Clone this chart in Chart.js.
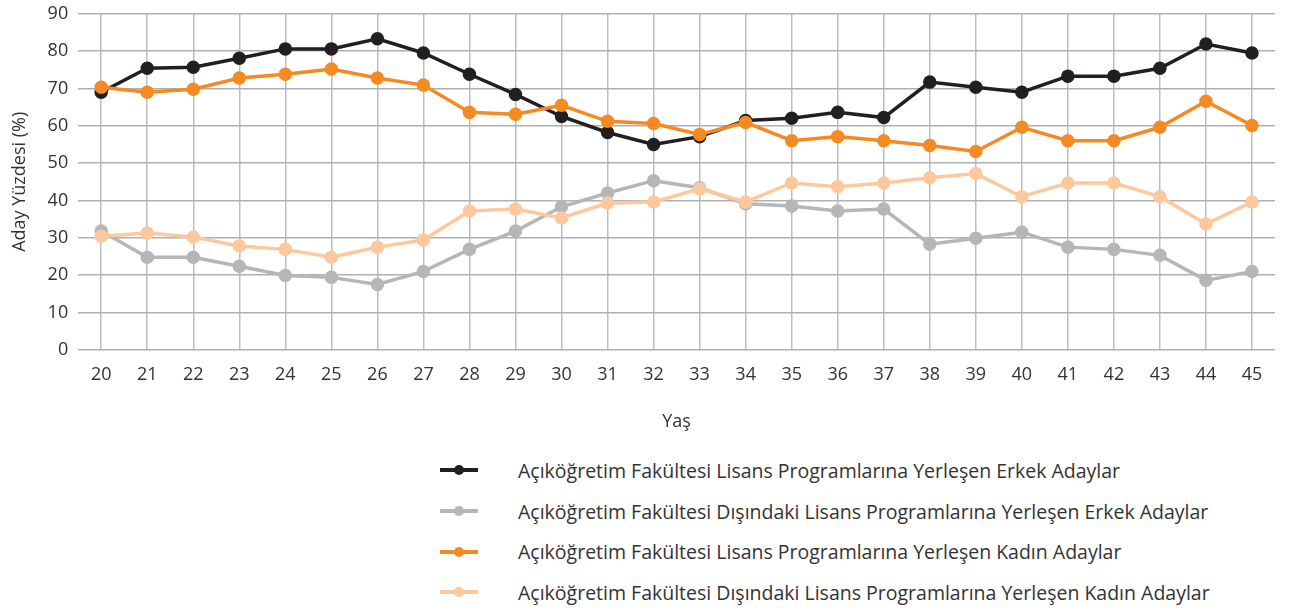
<!DOCTYPE html>
<html lang="tr">
<head>
    <meta charset="UTF-8">
    <title>Aday Yüzdesi</title>
    <script src="https://cdn.jsdelivr.net/npm/chart.js"></script>
    <style>
        body { margin: 0; background: #fff; font-family: 'Open Sans', sans-serif; }
        #wrap { position: relative; width: 1291px; height: 610px; overflow: hidden; }
        #chartBox { position: absolute; left: 0; top: -7px; width: 1291px; height: 444px; }
        #legend { position: absolute; left: 440px; top: 450px; }
        .item { display: flex; align-items: center; height: 40.7px; font-size: 19.5px; color: #333; }
        .mark { position: relative; width: 38px; height: 4px; margin-right: 40px; }
        .mark span { position: absolute; left: 14px; top: -3px; width: 10px; height: 10px; border-radius: 50%; }
    </style>
</head>
<body>
<div id="wrap">
    <div id="chartBox"><canvas id="chart"></canvas></div>
    <div id="legend"></div>
</div>
<script>
    // chart data
    const ages = ['20','21','22','23','24','25','26','27','28','29','30','31','32','33','34','35','36','37','38','39','40','41','42','43','44','45'];
    const aofErkek = [69, 75.4, 75.7, 78.1, 80.6, 80.6, 83.3, 79.5, 73.8, 68.4, 62.5, 58.2, 55, 57.1, 61.4, 62, 63.6, 62.2, 71.7, 70.3, 69, 73.3, 73.3, 75.4, 81.9, 79.5];
    const digerErkek = [31.8, 24.8, 24.8, 22.4, 19.9, 19.4, 17.5, 21, 26.9, 31.8, 38.3, 42, 45.3, 43.4, 39.1, 38.5, 37.2, 37.7, 28.3, 29.9, 31.5, 27.5, 26.9, 25.3, 18.6, 21];
    const aofKadin = [70.3, 69, 69.8, 72.8, 73.8, 75.2, 72.8, 70.9, 63.6, 63.1, 65.5, 61.2, 60.6, 57.7, 60.9, 56, 57.1, 56, 54.7, 53.1, 59.6, 56, 56, 59.6, 66.6, 60.1];
    const digerKadin = [30.4, 31.3, 30.2, 27.8, 26.9, 24.8, 27.5, 29.4, 37.2, 37.7, 35.3, 39.3, 39.6, 43.1, 39.6, 44.7, 43.7, 44.7, 46.1, 47.2, 41, 44.7, 44.7, 41, 33.7, 39.6];

    const seriesNames = [
        'Açıköğretim Fakültesi Lisans Programlarına Yerleşen Erkek Adaylar',
        'Açıköğretim Fakültesi Dışındaki Lisans Programlarına Yerleşen Erkek Adaylar',
        'Açıköğretim Fakültesi Lisans Programlarına Yerleşen Kadın Adaylar',
        'Açıköğretim Fakültesi Dışındaki Lisans Programlarına Yerleşen Kadın Adaylar'
    ];
    const seriesColors = ['#231f20', '#b5b6b8', '#f58a22', '#fec89d'];
    const seriesValues = [aofErkek, digerErkek, aofKadin, digerKadin];
    const drawOrder = [3, 4, 1, 2];

    const datasets = seriesValues.map((vals, i) => ({
        label: seriesNames[i],
        data: vals,
        borderColor: seriesColors[i],
        backgroundColor: seriesColors[i],
        borderWidth: 3.5,
        pointRadius: 5,
        pointHoverRadius: 5,
        tension: 0,
        order: drawOrder[i]
    }));

    const tickFont = { family: 'Open Sans', size: 18 };

    new Chart(document.getElementById('chart'), {
        type: 'line',
        data: { labels: ages, datasets: datasets },
        options: {
            responsive: true,
            maintainAspectRatio: false,
            animation: false,
            layout: { padding: { top: 2, right: 16, left: 5 } },
            plugins: { legend: { display: false }, tooltip: { enabled: false } },
            scales: {
                x: {
                    offset: true,
                    grid: { color: '#bdbdbd', lineWidth: 1.5, drawTicks: false, offset: false },
                    border: { display: false },
                    ticks: { color: '#333', font: tickFont, padding: 14 },
                    title: { display: true, text: 'Yaş', color: '#333', font: tickFont, padding: { top: 12 } }
                },
                y: {
                    min: 0,
                    max: 90,
                    ticks: { stepSize: 10, color: '#333', font: tickFont, padding: 10 },
                    grid: { color: '#b0b0b0', lineWidth: 1.5, drawTicks: false },
                    border: { display: false },
                    title: { display: true, text: 'Aday Yüzdesi (%)', color: '#333', font: tickFont, padding: { bottom: 7 } }
                }
            }
        }
    });

    // legend list
    const legend = document.getElementById('legend');
    seriesNames.forEach((name, i) => {
        const row = document.createElement('div');
        row.className = 'item';
        row.innerHTML = '<div class="mark" style="background:' + seriesColors[i] + '"><span style="background:' + seriesColors[i] + '"></span></div>' + name;
        legend.appendChild(row);
    });
</script>
</body>
</html>
